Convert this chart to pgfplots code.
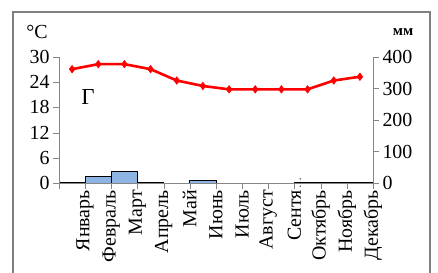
\documentclass[border=0pt]{standalone}
\usepackage{pgfplots}
\pgfplotsset{compat=1.18}
\usepackage{fontspec}
\setmainfont{Liberation Serif}
\definecolor{barblue}{HTML}{8EB4E3}
\definecolor{axgray}{HTML}{868686}
\definecolor{framegray}{HTML}{808080}
\begin{document}
\begin{tikzpicture}
\path[use as bounding box] (-59bp,-90bp) rectangle (379bp,183bp);
\clip (-59bp,-90bp) rectangle (379bp,183bp);
\draw[framegray, line width=1.8bp] (-46bp,-130bp) rectangle (371bp,171bp);
% right axis: precipitation
\begin{axis}[
  at={(0,0)}, anchor=south west,
  scale only axis, width=314bp, height=126bp,
  xmin=0.5, xmax=12.5, ymin=0, ymax=400,
  ytick={0,100,...,400},
  axis y line*=right, axis x line=none,
  tick align=outside, major tick length=6bp,
  y axis line style={axgray,-}, ytick style={axgray},
  yticklabel style={font=\fontsize{20}{22}\selectfont},
  /pgf/number format/assume math mode=true,
]
\addplot[ybar, bar width=1, fill=barblue, draw=black, line width=0.8bp]
  coordinates {(1,3)(2,20)(3,38)(4,3)(6,8)(10,2)(11,2)(12,2)};
\end{axis}
% left axis: temperature
\begin{axis}[
  at={(0,0)}, anchor=south west,
  scale only axis, width=314bp, height=126bp,
  xmin=0.5, xmax=12.5, ymin=0, ymax=30,
  ytick={0,6,...,30},
  axis x line*=bottom, axis y line*=left,
  tick align=outside, major tick length=6bp, minor tick length=6bp,
  x axis line style={axgray,-}, y axis line style={axgray,-},
  ytick style={axgray},
  xtick={1,...,12},
  xticklabels={Январь,Февраль,Март,Апрель,Май,Июнь,Июль,Август,{Сентя\rlap{\fontsize{11}{11}\selectfont\,…}},Октябрь,Ноябрь,Декабрь},
  major x tick style={draw=none},
  minor xtick={0.5,1.5,...,12.5},
  minor x tick style={axgray},
  xticklabel style={font=\fontsize{20}{22}\selectfont, rotate=90, anchor=east, inner sep=1bp, yshift=-13bp},
  yticklabel style={font=\fontsize{20}{22}\selectfont},
  /pgf/number format/assume math mode=true,
]
\addplot[red, line width=2.6bp, mark=diamond*, mark size=3.8bp, mark options={fill=red, draw=red, line width=0.5bp}]
  coordinates {(1,27.1)(2,28.3)(3,28.3)(4,27.1)(5,24.4)(6,23.1)(7,22.3)(8,22.3)(9,22.3)(10,22.3)(11,24.4)(12,25.3)};
\node[font=\fontsize{23}{25}\selectfont] at (axis cs:1.61,20.5) {Г};
\end{axis}
\node[font=\fontsize{20}{22}\selectfont] at (-22bp,151bp) {°C};
\node[font=\bfseries\fontsize{15}{17}\selectfont] at (344bp,151bp) {мм};
\end{tikzpicture}
\end{document}
